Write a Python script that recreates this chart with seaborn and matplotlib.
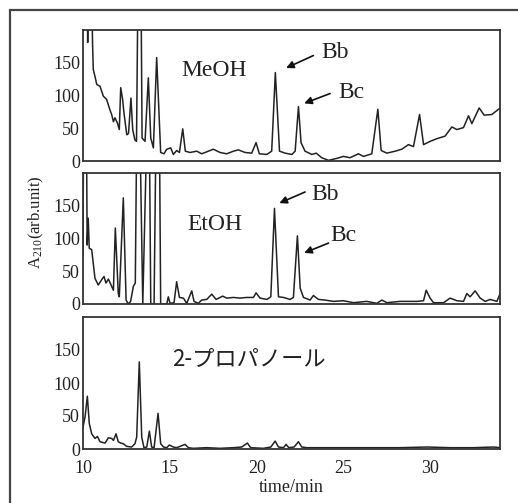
import matplotlib
matplotlib.use("Agg")
import matplotlib.pyplot as plt
from matplotlib.patches import Rectangle
import seaborn as sns

# ---------------- data ----------------
meoh_t = [10.00, 10.24, 10.27, 10.30, 10.50, 10.55, 10.59, 10.69, 10.79, 10.98, 11.17, 11.36,
          11.55, 11.65, 11.75, 11.84, 11.98, 12.09, 12.17, 12.28, 12.36, 12.52, 12.62, 12.76,
          12.86, 12.99, 13.08, 13.16, 13.34, 13.40, 13.57, 13.76, 13.90, 14.05, 14.24, 14.47,
          14.66, 14.82, 15.05, 15.20, 15.39, 15.55, 15.74, 15.89, 16.16, 16.55, 16.83, 17.12,
          17.50, 17.89, 18.27, 18.66, 18.94, 19.33, 19.71, 19.96, 20.15, 20.58, 20.86, 21.07,
          21.31, 21.63, 22.02, 22.21, 22.40, 22.55, 22.78, 23.17, 23.42, 23.74, 24.13, 24.61,
          24.99, 25.37, 25.85, 26.14, 26.62, 26.97, 27.16, 27.49, 27.97, 28.35, 28.73, 29.02,
          29.37, 29.60, 29.98, 30.36, 30.84, 31.23, 31.52, 31.90, 32.19, 32.38, 32.80, 33.09,
          33.53, 34.01]
meoh_v = [260, 260, 181, 260, 260, 180, 140, 129, 117, 114, 99, 94,
          78, 71, 60, 66, 58, 48, 112, 94, 73, 40, 42, 96,
          48, 32, 30, 260, 260, 35, 30, 127, 35, 20, 158, 13,
          11, 18, 20, 10, 16, 13, 49, 15, 13, 15, 11, 14,
          18, 13, 11, 15, 17, 13, 12, 28, 11, 10, 15, 135,
          15, 12, 10, 15, 83, 28, 15, 10, 12, 5, 1, 4,
          7, 5, 11, 7, 11, 79, 16, 12, 15, 18, 25, 22,
          71, 25, 30, 34, 38, 52, 48, 51, 69, 57, 81, 70,
          71, 81]

etoh_t = [10.00, 10.03, 10.20, 10.24, 10.30, 10.36, 10.50, 10.69, 10.88, 11.07, 11.21, 11.32,
          11.46, 11.65, 11.75, 11.86, 12.03, 12.09, 12.32, 12.48, 12.61, 12.74, 12.90, 13.01,
          13.09, 13.28, 13.44, 13.67, 13.82, 13.90, 14.09, 14.20, 14.40, 14.47, 14.82, 14.91,
          15.01, 15.24, 15.39, 15.55, 15.78, 15.97, 16.26, 16.39, 16.64, 16.83, 17.12, 17.41,
          17.66, 18.04, 18.27, 18.66, 19.04, 19.42, 19.81, 19.96, 20.19, 20.58, 20.81, 21.02,
          21.25, 21.54, 21.92, 22.11, 22.34, 22.50, 22.69, 23.07, 23.26, 23.55, 23.93, 24.41,
          24.99, 25.57, 26.33, 26.91, 27.20, 27.49, 28.25, 29.21, 29.60, 29.75, 29.98, 30.17,
          30.75, 31.13, 31.52, 31.90, 32.09, 32.28, 32.57, 32.86, 33.15, 33.44, 33.82, 34.01]
etoh_v = [75, 260, 260, 90, 131, 85, 83, 39, 29, 37, 42, 32,
          38, 27, 21, 116, 16, 11, 162, 6, 0, 4, 27, 32,
          260, 260, 0, 260, 260, 0, 0, 260, 260, 0, 0, 11,
          1, 2, 34, 10, 9, 1, 20, 4, 1, 6, 7, 15,
          7, 12, 9, 10, 9, 10, 10, 17, 9, 7, 11, 146,
          11, 10, 7, 10, 104, 24, 10, 6, 13, 7, 6, 4,
          5, 2, 4, 1, 6, 2, 4, 4, 5, 21, 9, 2,
          2, 9, 5, 4, 16, 11, 20, 9, 4, 7, 4, 16]

prop_t = [10.00, 10.12, 10.25, 10.36, 10.50, 10.69, 10.83, 10.98, 11.27, 11.46, 11.65, 11.75,
          11.90, 12.03, 12.17, 12.32, 12.51, 12.80, 12.99, 13.09, 13.24, 13.38, 13.51, 13.67,
          13.82, 13.95, 14.09, 14.32, 14.47, 14.63, 14.82, 14.97, 15.20, 15.39, 15.59, 15.87,
          16.07, 16.35, 17.12, 17.89, 18.66, 19.14, 19.46, 19.65, 20.38, 20.81, 21.06, 21.25,
          21.54, 21.69, 21.84, 22.15, 22.40, 22.59, 22.88, 24.03, 25.37, 26.72, 28.25, 29.79,
          31.13, 32.48, 33.63, 34.01]
prop_v = [33, 49, 80, 39, 23, 16, 19, 11, 9, 17, 16, 13,
          23, 11, 9, 8, 4, 3, 8, 18, 132, 18, 2, 3,
          27, 3, 2, 54, 8, 3, 2, 6, 3, 2, 4, 7,
          2, 1, 2, 1, 2, 3, 9, 2, 1, 3, 12, 3,
          2, 7, 2, 3, 11, 3, 2, 2, 2, 2, 2, 3,
          2, 2, 3, 2]

panel_labels = ["MeOH", "EtOH", "2-プロパノール"]
y_ticks = [0, 50, 100, 150]
x_ticks = [10, 15, 20, 25, 30]

# ---------------- style ----------------
sns.set_style("white")
plt.rcParams['font.family'] = ['Liberation Serif', 'Noto Sans CJK JP', 'DejaVu Sans']
plt.rcParams['mathtext.default'] = 'regular'

W, H = 518, 503
fig = plt.figure(figsize=(W / 100, H / 100), dpi=100)

def fx(px):
    return px / W

def fy(py):
    return 1 - py / H

boxes = [(30, 161), (173, 304), (317, 449)]
series = [(meoh_t, meoh_v), (etoh_t, etoh_v), (prop_t, prop_v)]
line_col = "#222222"
spine_col = "#333333"

axes = []
for i, ((top, bot), (t, v)) in enumerate(zip(boxes, series)):
    ax = fig.add_axes([fx(83), fy(bot), fx(500) - fx(83), (bot - top) / H])
    sns.lineplot(x=t, y=v, ax=ax, color=line_col, linewidth=1.1, sort=False, estimator=None)
    ax.set_xlim(10, 34)
    ax.set_ylim(0, 200)
    ax.set_yticks(y_ticks)
    ax.set_xticks(x_ticks)
    ax.tick_params(direction='in', length=6, width=1, labelsize=13, colors=spine_col,
                   labelcolor='#222222')
    ax.tick_params(axis='y', pad=2)
    ax.tick_params(axis='x', pad=8)
    for s in ax.spines.values():
        s.set_color(spine_col)
        s.set_linewidth(1.3)
    if i < 2:
        ax.set_xticklabels([])
    ax.set_xlabel("")
    ax.set_ylabel("")
    axes.append(ax)

# panel labels
axes[0].text(15.68, 138, panel_labels[0], fontsize=17, va='center', ha='left', color='#222222')
axes[1].text(16.0, 121, panel_labels[1], fontsize=17, va='center', ha='left', color='#222222')
axes[2].text(15.1, 135, panel_labels[2], fontsize=16, va='center', ha='left', color='#222222',
             family=['Noto Sans CJK JP'])

arrow_kw = dict(arrowstyle='-|>', color='#111111', lw=1.2, mutation_scale=11,
                shrinkA=0, shrinkB=0)
# MeOH
axes[0].text(23.74, 166, "Bb", fontsize=17, va='center', ha='left', color='#222222')
axes[0].annotate("", xy=(21.69, 142), xytext=(23.26, 161), arrowprops=arrow_kw)
axes[0].text(24.7, 105, "Bc", fontsize=17, va='center', ha='left', color='#222222')
axes[0].annotate("", xy=(22.73, 88), xytext=(24.22, 103), arrowprops=arrow_kw)
# EtOH
axes[1].text(23.17, 167, "Bb", fontsize=17, va='center', ha='left', color='#222222')
axes[1].annotate("", xy=(21.3, 154), xytext=(22.78, 171), arrowprops=arrow_kw)
axes[1].text(24.22, 104, "Bc", fontsize=17, va='center', ha='left', color='#222222')
axes[1].annotate("", xy=(22.73, 78), xytext=(24.13, 93), arrowprops=arrow_kw)

axes[2].set_xlabel("time/min", fontsize=13, color='#222222', labelpad=1)

fig.text(fx(36), fy(222), r"A$_{\mathregular{210}}$(arb.unit)", rotation=90, fontsize=12,
         ha='center', va='center', color='#222222')

# outer frame (cut by the figure edges)
fig.add_artist(Rectangle((fx(10), -0.5), 2, fy(10) + 0.5, transform=fig.transFigure,
                         fill=False, lw=1.6, ec='#444444'))

fig.savefig("out.png", dpi=100)
